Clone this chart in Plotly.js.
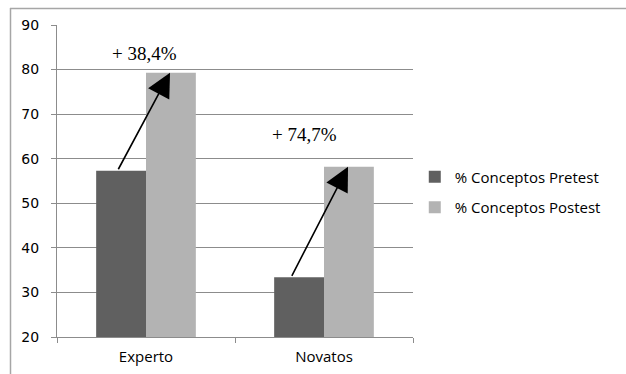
<!DOCTYPE html>
<html>
<head>
<meta charset="utf-8">
<script src="https://cdn.plot.ly/plotly-3.0.1.min.js"></script>
<style>
html,body{margin:0;padding:0;background:#fff;}
#chart{width:626px;height:374px;}
</style>
</head>
<body>
<div id="chart"></div>
<script>
// Data
var categories = ["Experto", "Novatos"];
var seriesNames = ["% Conceptos Pretest", "% Conceptos Postest"];
var pretest = [57.3, 33.4];
var postest = [79.3, 58.2];
var increaseLabels = ["+ 38,4%", "+ 74,7%"];
var yTicks = [20, 30, 40, 50, 60, 70, 80, 90];

var traces = [
  {type: "bar", name: seriesNames[0], x: categories, y: pretest, legendgroup: "g1",
   marker: {color: "#606060"}, hoverinfo: "skip"},
  {type: "bar", name: seriesNames[1], x: categories, y: postest, legendgroup: "g2",
   marker: {color: "#b3b3b3"}, hoverinfo: "skip"}
];

// Arrow geometry (offsets within a category, in category units)
var arrowStartOff = [-0.16, -0.185];
var arrowEndOff = [0.135, 0.135];
var labelOff = [-0.01, -0.11];
var labelY = [83.6, 65.4];

var annotations = [];
for (var i = 0; i < categories.length; i++) {
  annotations.push({
    x: i + arrowEndOff[i], y: postest[i], xref: "x", yref: "y",
    ax: i + arrowStartOff[i], ay: pretest[i], axref: "x", ayref: "y",
    showarrow: true, arrowhead: 2, arrowsize: 3, arrowwidth: 1.6,
    arrowcolor: "#000", text: "", standoff: 0, startstandoff: 0
  });
  annotations.push({
    x: i + labelOff[i], y: labelY[i], xref: "x", yref: "y",
    text: increaseLabels[i], showarrow: false,
    font: {family: "Liberation Serif, Times New Roman, serif", size: 19, color: "#000"}
  });
}

var px = function(p){ return (p - 57) / 356; };
var py = function(p){ return (337 - p) / 312; };

var shapes = [
  {type: "line", xref: "paper", yref: "paper", x0: px(10), x1: px(626), y0: py(8.5), y1: py(8.5),
   line: {color: "#a6a6a6", width: 1.5}},
  {type: "line", xref: "paper", yref: "paper", x0: px(10.5), x1: px(10.5), y0: py(8), y1: py(374),
   line: {color: "#a6a6a6", width: 1.5}}
];

var layout = {
  width: 626, height: 374,
  margin: {l: 57, r: 213, t: 25, b: 37},
  paper_bgcolor: "#fff", plot_bgcolor: "#fff",
  barmode: "group", bargap: 0.44, bargroupgap: 0,
  showlegend: true,
  legend: {x: 1.005, y: 0.465, xanchor: "left", yanchor: "middle",
    font: {family: "Open Sans, sans-serif", size: 15, color: "#000"},
    itemwidth: 30, tracegroupgap: 8, traceorder: "grouped"},
  xaxis: {type: "category", showline: true, linecolor: "#8c8c8c", linewidth: 1,
    ticks: "outside", tickson: "boundaries", ticklen: 5, tickcolor: "#8c8c8c",
    showgrid: false, zeroline: false, ticklabelstandoff: 6,
    tickfont: {family: "Open Sans, sans-serif", size: 15, color: "#000"}},
  yaxis: {range: [20, 90], tickvals: yTicks, showline: true, linecolor: "#8c8c8c", linewidth: 1,
    ticks: "outside", ticklen: 5, tickcolor: "#8c8c8c",
    showgrid: true, gridcolor: "#8c8c8c", gridwidth: 1, zeroline: false,
    ticklabelstandoff: 9,
    tickfont: {family: "DejaVu Sans, sans-serif", size: 14, color: "#000"}},
  annotations: annotations,
  shapes: shapes
};

Plotly.newPlot("chart", traces, layout, {staticPlot: true, displayModeBar: false});
</script>
</body>
</html>
